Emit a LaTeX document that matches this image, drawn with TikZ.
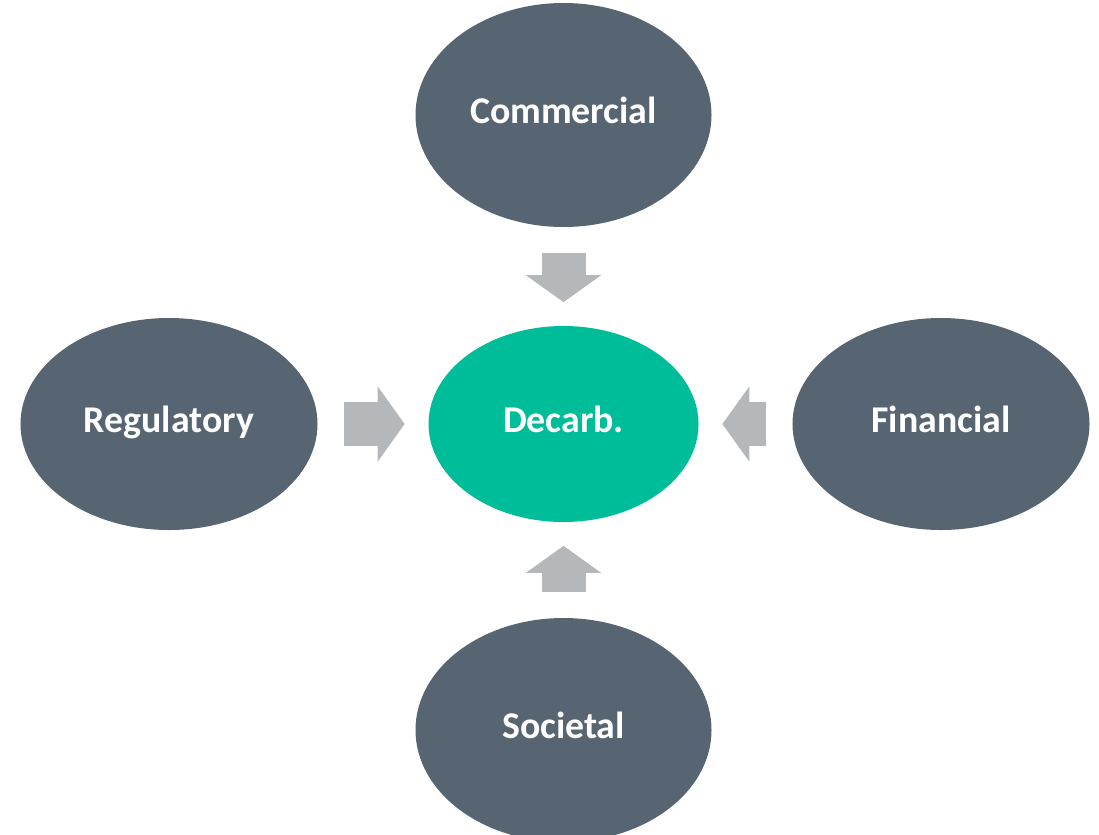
\documentclass[tikz,border=0pt]{standalone}
\usepackage{fontspec}
\setmainfont{Carlito}
\usetikzlibrary{shapes.geometric}
\usetikzlibrary{arrows.meta}
\definecolor{slate}{RGB}{87,101,115}
\definecolor{teal}{RGB}{0,189,154}
\definecolor{arrowgray}{RGB}{181,184,187}

\begin{document}
\begin{tikzpicture}[
	driver/.style={ellipse,fill=slate,inner sep=0pt,minimum width=5.94cm,minimum height=4.24cm,
		text height=1.0em,text depth=0.08em,
		text=white,font=\fontsize{21.5}{26}\selectfont\bfseries},
	goal/.style={driver,fill=teal,minimum width=5.4cm,minimum height=3.92cm},
	push/.style={draw=arrowgray,line width=0.88cm,shorten <=0.52cm,shorten >=0.47cm,
		-{Triangle[length=0.54cm,width=1.48cm]}}
]
\useasboundingbox (0,0) rectangle (21.98,-16.68);
\node[goal] (dec) at (11.27,-8.48) {Decarb.};
\node[driver,minimum width=5.92cm,minimum height=4.48cm] (com) at (11.27,-2.3) {Commercial};
\node[driver] (reg) at (3.38,-8.48) {Regulatory};
\node[driver] (fin) at (18.82,-8.48) {Financial};
\node[driver,minimum width=5.92cm,minimum height=4.48cm] (soc) at (11.27,-14.6) {Societal};
\draw[push] (com) -- (dec);
\draw[push] (reg) -- (dec);
\draw[push] (fin) -- (dec);
\draw[push] (soc) -- (dec);
\end{tikzpicture}
\end{document}
